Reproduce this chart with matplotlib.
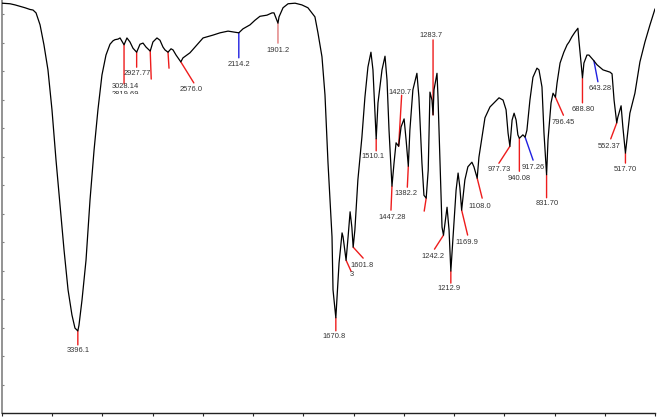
import numpy as np
import matplotlib
matplotlib.use("Agg")
import matplotlib.pyplot as plt
from matplotlib.ticker import FixedLocator, NullFormatter
from matplotlib.transforms import Bbox

# ---- spectrum (wavenumber cm-1, transmittance %) ----
wavenumber = [4000, 3936, 3896, 3817, 3777, 3753, 3729, 3697, 3666, 3634, 3602, 3570,
              3538, 3506, 3474, 3443, 3419, 3396.1, 3387, 3363, 3331, 3299, 3267, 3236,
              3204, 3172, 3140, 3116, 3100, 3076, 3060, 3028.14, 3005, 2981, 2957,
              2927.77, 2901, 2877, 2853, 2819.69, 2798, 2766, 2742, 2718, 2702, 2678,
              2654, 2638, 2614, 2576.0, 2559, 2503, 2447, 2399, 2320, 2264, 2200,
              2114.2, 2081, 2025, 1993, 1973, 1945, 1925, 1917, 1901.2, 1897, 1881,
              1861, 1833, 1806, 1782, 1754, 1742, 1726, 1714, 1702, 1686, 1682,
              1670.8, 1666, 1658, 1646, 1642, 1630, 1622, 1614, 1607, 1601.8, 1595,
              1583, 1567, 1555, 1543, 1531, 1523, 1510.1, 1503, 1487, 1475, 1467,
              1459, 1447.28, 1439, 1431, 1420.7, 1411, 1399, 1391, 1382.2, 1376,
              1364, 1348, 1340, 1328, 1320, 1311, 1303, 1296, 1288, 1283.7, 1280,
              1268, 1264, 1256, 1248, 1242.2, 1228, 1220, 1212.9, 1204, 1192, 1184,
              1177, 1169.9, 1157, 1145, 1129, 1121, 1108.0, 1101, 1089, 1077, 1057,
              1037, 1021, 1005, 993, 985, 977.73, 969, 961, 953, 946, 940.08, 926,
              917.26, 910, 898, 886, 870, 862, 850, 842, 831.70, 826, 814, 806,
              796.45, 790, 778, 763, 750, 742, 731, 719, 707, 703, 688.80, 683, 671,
              663, 643.28, 631, 607, 579, 571, 563, 552.37, 548, 535, 528, 517.70,
              512, 500, 480, 460, 440, 420, 400]
transmittance = [71.9, 71.8, 71.6, 71.1, 70.8, 70.7, 70.2, 68.1, 64.6, 60.2, 53.2, 44.4,
                 36.5, 28.6, 21.6, 17.2, 14.9, 14.4, 15.4, 19.8, 26.8, 37.4, 46.1, 53.2,
                 59.3, 62.8, 64.7, 65.3, 65.5, 65.6, 65.8, 64.6, 65.8, 65.1, 64.0,
                 63.3, 64.7, 64.9, 64.2, 63.5, 65.1, 65.8, 65.4, 64.2, 63.7, 63.3,
                 63.9, 63.7, 62.8, 61.6, 62.3, 63.2, 64.6, 65.8, 66.3, 66.7, 67.0,
                 66.7, 67.4, 68.1, 68.9, 69.6, 69.8, 70.2, 70.2, 68.4, 69.5, 71.1,
                 71.8, 71.9, 71.6, 71.1, 69.5, 66.7, 62.5, 55.8, 43.9, 30.9, 21.6,
                 16.7, 20.4, 26.3, 31.6, 30.9, 26.8, 30.9, 35.3, 32.6, 29.1, 32.1,
                 40.9, 48.4, 55.4, 60.7, 63.3, 60.2, 48.1, 54.4, 60.2, 62.6, 58.4,
                 49.6, 39.8, 43.9, 47.4, 46.8, 50.2, 51.6, 47.9, 43.3, 49.6,
                 56.7, 59.6, 55.4, 43.9, 38.2, 37.7, 42.6, 56.3, 54.9, 52.3, 56.7,
                 59.6, 55.4, 43.9, 32.6, 31.2, 36.1, 32.1, 24.9, 30.9, 39.1, 42.1,
                 39.6, 35.6, 40.9, 43.2, 44.0, 43.2, 41.2, 44.9, 48.4, 51.8, 53.7,
                 54.6, 55.3, 54.9, 53.2, 49.1, 46.8, 51.4, 52.6, 51.4, 48.8, 48.2, 48.8,
                 48.4, 49.6, 54.9, 58.9, 60.5, 60.2, 57.2, 49.1, 41.8, 47.9, 54.4, 56.1,
                 55.4, 57.9, 61.4, 63.3, 64.6, 65.1, 66.0, 66.8, 67.5, 65.4, 58.8, 61.4, 62.8,
                 62.8, 61.8, 61.1, 60.2, 59.8, 59.5, 54.9, 50.9, 51.9, 53.9, 50.2, 45.6,
                 47.9, 52.6, 56.1, 61.6, 65.1, 68.1, 70.9]

# ---- peak annotations ----
peak_wavenumbers = [3396.1, 3028.14, 2927.77, 2819.69, 2678, 2576.0, 2114.2, 1901.2,
                    1670.8, 1630, 1601.8, 1510.1, 1447.28, 1420.7, 1382.2, 1311,
                    1283.7, 1242.2, 1212.9, 1169.9, 1108.0, 977.73, 940.08, 917.26,
                    831.70, 796.45, 688.80, 643.28, 552.37, 517.70]
peak_labels = ["3396.1", "3028.14", "2927.77", "2819.69", "", "2576.0", "2114.2",
               "1901.2", "1670.8", "3", "1601.8", "1510.1", "1447.28", "1420.7",
               "1382.2", "", "1283.7", "1242.2", "1212.9", "1169.9", "1108.0",
               "977.73", "940.08", "917.26", "831.70", "796.45", "688.80", "643.28",
               "552.37", "517.70"]

# layout: (line end dx, dy, text dx, dy) in pixels, colour
RED, BLUE, PINK = "#ee1c1c", "#2020e0", "#e07a7a"
layout = [
    (0, -14, 0, -20, RED),        # 3396.1
    (0, -39, 1, -42, RED),        # 3028.14
    (0, -15, 1, -21, RED),        # 2927.77
    (1, -28, -25, -43, RED),      # 2819.69
    (1, -16, 0, 0, RED),          # hidden
    (13, -21, 10, -28, RED),      # 2576.0
    (0, -25, 0, -32, BLUE),       # 2114.2
    (0, -20, 0, -27, PINK),       # 1901.2
    (0, -13, -2, -19, RED),       # 1670.8
    (5, -11, 6, -14, RED),        # 3
    (10, -11, 9, -18, RED),       # 1601.8
    (0, -12, -3, -18, RED),       # 1510.1
    (-1, -24, 0, -31, RED),       # 1447.28
    (3, 51, 1, 54, RED),          # 1420.7
    (-1, -21, -2, -27, RED),      # 1382.2
    (-2, -13, 0, 0, RED),         # hidden
    (0, 75, -2, 79, RED),         # 1283.7
    (-9, -14, -11, -21, RED),     # 1242.2
    (0, -12, -2, -17, RED),       # 1212.9
    (6, -25, 5, -32, RED),        # 1169.9
    (5, -20, 3, -28, RED),        # 1108.0
    (-11, -17, -11, -23, RED),    # 977.73
    (0, -33, 0, -40, RED),        # 940.08
    (8, -23, 8, -30, BLUE),       # 917.26
    (0, -23, 1, -29, RED),        # 831.70
    (8, -18, 8, -25, RED),        # 796.45
    (0, -25, 1, -32, RED),        # 688.80
    (4, -21, 6, -28, BLUE),       # 643.28
    (-6, -16, -8, -24, RED),      # 552.37
    (0, -10, 0, -16, RED),        # 517.70
]

x_ticks = [4000, 3600, 3200, 2800, 2400, 2000, 1800, 1600, 1400, 1200, 1000, 800, 600, 400]
y_ticks = [0, 5, 10, 15, 20, 25, 30, 35, 40, 45, 50, 55, 60, 65, 70]


# increasing piecewise-linear scale: 4000-2000 compressed 2x relative to 2000-400
def fwd(w):
    w = np.asarray(w, dtype=float)
    return np.where(w >= 2000, w - 4000, 2 * w - 6000)


def inv(q):
    q = np.asarray(q, dtype=float)
    return np.where(q >= -2000, q + 4000, (q + 6000) / 2)


plt.rcParams["font.family"] = ["Liberation Sans", "DejaVu Sans"]
W, H = 658, 418
fig = plt.figure(figsize=(W / 100, H / 100), dpi=100)
ax = fig.add_axes([2 / W, 5 / H, 653 / W, 413 / H])
ax.set_xscale("function", functions=(fwd, inv))
ax.set_xlim(4000, 400)
ax.set_ylim(0, 72.46)

ax.plot(wavenumber, transmittance, color="black", lw=0.9, zorder=3,
        solid_joinstyle="round", solid_capstyle="round")

for s in ("top", "right"):
    ax.spines[s].set_visible(False)
ax.spines["left"].set_color("#808080")
ax.spines["left"].set_linewidth(1.2)
ax.spines["bottom"].set_color("#222222")
ax.spines["bottom"].set_linewidth(1.0)
ax.xaxis.set_major_locator(FixedLocator(x_ticks))
ax.xaxis.set_minor_locator(FixedLocator([]))
ax.yaxis.set_major_locator(FixedLocator(y_ticks))
ax.xaxis.set_major_formatter(NullFormatter())
ax.yaxis.set_major_formatter(NullFormatter())
ax.tick_params(axis="x", direction="out", length=2.2, width=0.8, color="#222222")
ax.tick_params(axis="y", direction="in", length=1.5, width=0.8, color="#808080")

wn_sorted = np.array(wavenumber)[::-1]
tr_sorted = np.array(transmittance)[::-1]
for w, lab, (ldx, ldy, tdx, tdy, col) in zip(peak_wavenumbers, peak_labels, layout):
    t = float(np.interp(w, wn_sorted, tr_sorted))
    ax.annotate("", xy=(w, t), xytext=(ldx, ldy), textcoords="offset pixels",
                arrowprops=dict(arrowstyle="-", color=col, lw=1.0,
                                shrinkA=0, shrinkB=0), zorder=2)
    if lab:
        txt = ax.annotate(lab, xy=(w, t), xytext=(tdx, tdy), textcoords="offset pixels",
                          ha="center", va="center", fontsize=5.4, color="#333333",
                          zorder=4)
        if lab == "2819.69":
            cx, cy = ax.transData.transform((w, t))
            cx += tdx
            cy += tdy
            txt.set_clip_box(Bbox.from_extents(cx - 30, cy + 0.5, cx + 30, cy + 20))
            txt.set_clip_on(True)

fig.savefig("out.png", dpi=100)
